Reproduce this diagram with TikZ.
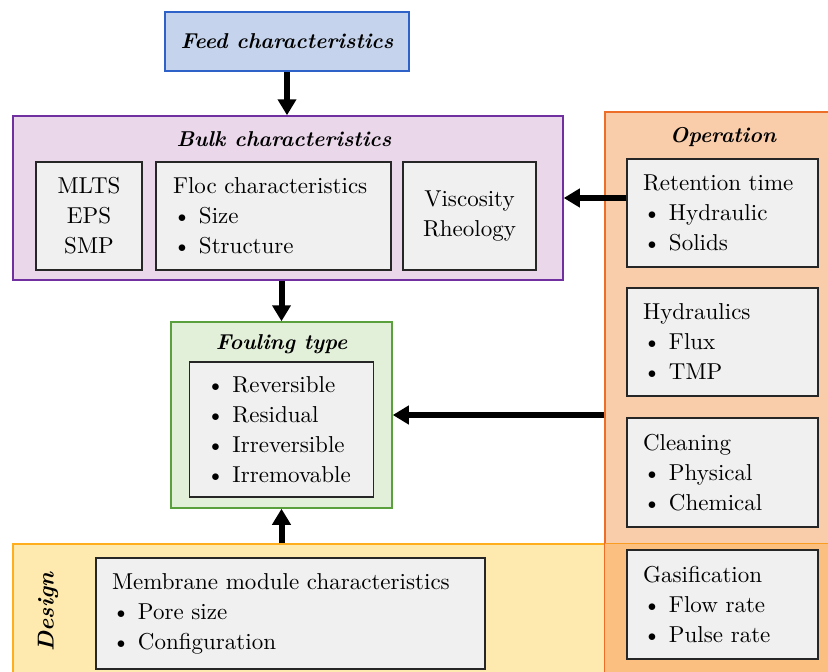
\documentclass[tikz,border=0pt]{standalone}
\usepackage{fontspec}
\setmainfont{lmroman10}[Extension=.otf, UprightFont=*-regular, BoldFont=*-bold,
  ItalicFont=*-italic, BoldItalicFont=*-bolditalic]
\usepackage{xcolor}
\usetikzlibrary{arrows.meta}

\definecolor{feedfill}{RGB}{197,212,236}
\definecolor{feedline}{RGB}{47,98,200}
\definecolor{bulkfill}{RGB}{234,215,234}
\definecolor{bulkline}{RGB}{112,48,160}
\definecolor{foulfill}{RGB}{226,239,217}
\definecolor{foulline}{RGB}{90,160,60}
\definecolor{opfill}{RGB}{250,205,170}
\definecolor{opline}{RGB}{237,110,40}
\definecolor{desfill}{RGB}{254,233,175}
\definecolor{desline}{RGB}{255,175,30}
\definecolor{overlapfill}{RGB}{251,192,128}
\definecolor{cellgray}{RGB}{240,240,240}

\newcommand{\boxfont}{\fontsize{23}{30}\selectfont}
\newcommand{\headfont}{\fontsize{21.5}{26}\selectfont\bfseries\itshape}
\newcommand{\itm}[1]{\makebox[26pt][l]{\textbullet}#1}

\tikzset{
  panel/.style={line width=1.5pt, inner sep=0pt},
  cellbox/.style={draw=black!85, fill=cellgray, line width=1.8pt, font=\boxfont,
    inner xsep=16pt, inner ysep=0pt},
  heading/.style={font=\headfont, inner sep=0pt},
  arr/.style={-{Triangle[length=16pt,width=18pt]}, line width=6pt},
}

\begin{document}
\begin{tikzpicture}[x=1pt,y=-1pt]
	\useasboundingbox (0,0) rectangle (828,672);
	% Panels
	\node[panel, draw=desline, fill=desfill, minimum width=827pt, minimum height=146pt] (design) at (426.5,617) {};
	\node[panel, draw=opline, fill=opfill, minimum width=235pt, minimum height=578pt] (oper) at (722.5,401) {};
	\fill[overlapfill] (oper.west |- design.north) rectangle (oper.south east);
	\draw[line width=1.5pt, desline!70!opline] (oper.west |- design.north) -- (design.north east);
	\draw[line width=1.5pt, opline] (oper.west |- design.north) -- (oper.south west);
	\node[panel, draw=feedline, fill=feedfill, minimum width=244pt, minimum height=59pt] (feed) at (287,41.5) {};
	\node[panel, draw=bulkline, fill=bulkfill, minimum width=550pt, minimum height=164pt] (bulk) at (288,198) {};
	\node[panel, draw=foulline, fill=foulfill, minimum width=221pt, minimum height=186pt] (fouling) at (281.5,415) {};
	% Headings
	\node[heading] (feedtitle) at (feed) {Feed characteristics};
	\node[heading] (bulktitle) at (284,139) {Bulk characteristics};
	\node[heading] (foultitle) at (281.5,344) {Fouling type};
	\node[heading] (optitle) at (723,137) {Operation};
	\node[heading, font=\fontsize{23}{26}\selectfont\bfseries\itshape, rotate=90] (destitle) at (48,612) {Design};
	% Bulk characteristics
	\node[cellbox, align=center, minimum width=106pt, minimum height=108pt] (mlts) at (89,216)
		{MLTS\\EPS\\SMP};
	\node[cellbox, align=left, inner xsep=17pt, text width=201pt, minimum height=108pt] (floc) at (273.5,216)
		{Floc characteristics\\\itm{Size}\\\itm{Structure}};
	\node[cellbox, align=center, minimum width=133pt, minimum height=108pt] (visc) at (469.5,216)
		{Viscosity\\Rheology};
	% Fouling type
	\node[cellbox, align=left, inner xsep=17pt, text width=150pt, minimum height=135pt] (foullist) at (281.5,429.5)
		{\itm{Reversible}\\\itm{Residual}\\\itm{Irreversible}\\\itm{Irremovable}};
	% Operation
	\node[cellbox, align=left, text width=159pt, minimum height=108pt] (ret) at (722.5,213)
		{Retention time\\\itm{Hydraulic}\\\itm{Solids}};
	\node[cellbox, align=left, text width=159pt, minimum height=108pt] (hyd) at (722.5,342)
		{Hydraulics\\\itm{Flux}\\\itm{TMP}};
	\node[cellbox, align=left, text width=159pt, minimum height=109pt] (clean) at (722.5,472.5)
		{Cleaning\\\itm{Physical}\\\itm{Chemical}};
	\node[cellbox, align=left, text width=159pt, minimum height=109pt] (gas) at (722.5,604.5)
		{Gasification\\\itm{Flow rate}\\\itm{Pulse rate}};
	% Design
	\node[cellbox, align=left, text width=357pt, minimum height=111pt] (membrane) at (290.5,613.5)
		{Membrane module characteristics\\\itm{Pore size}\\\itm{Configuration}};
	% Connect the nodes
	\coordinate (retin) at ([yshift=15pt]ret.west);
	\draw[arr] (feed.south) -- (feed.south |- bulk.north);
	\draw[arr] (bulk.south -| fouling.north) -- (fouling.north);
	\draw[arr] (retin) -- (retin -| bulk.east);
	\draw[arr] (fouling.east -| oper.west) -- (fouling.east);
	\draw[arr] (design.north -| fouling.south) -- (fouling.south);
\end{tikzpicture}
\end{document}
